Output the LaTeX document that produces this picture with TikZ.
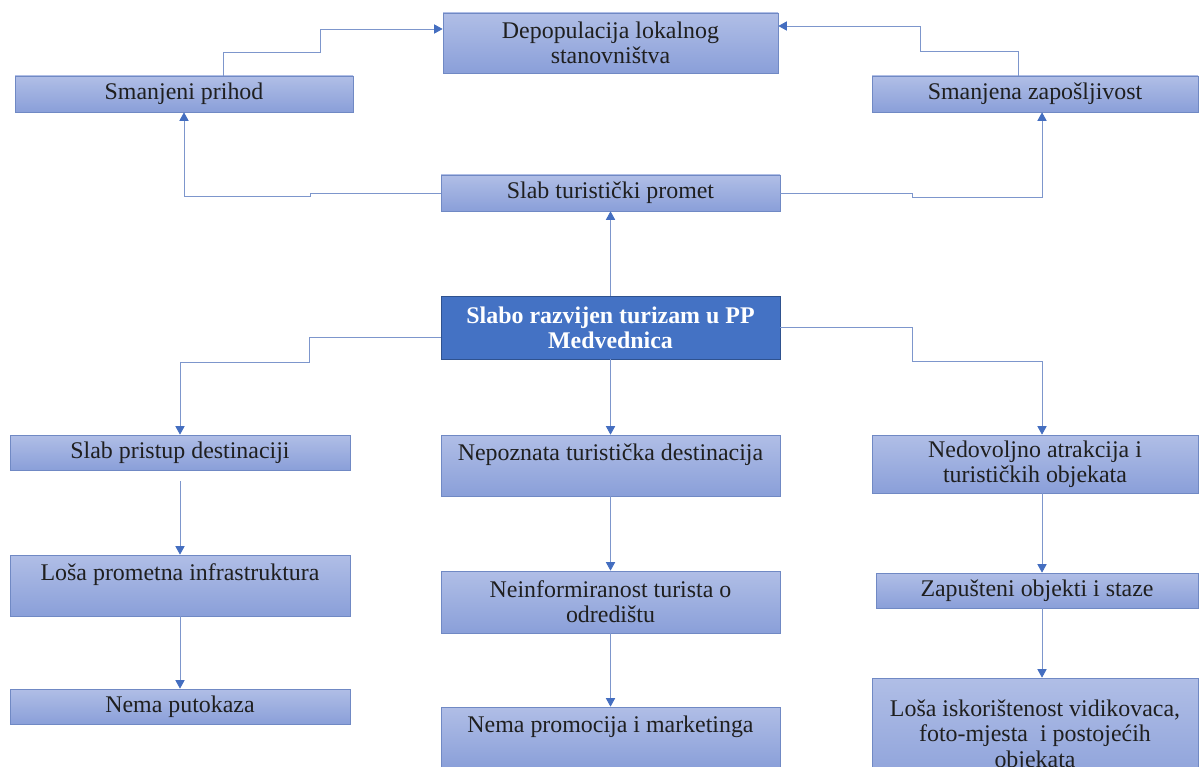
\documentclass[tikz,border=0pt]{standalone}
\usepackage{fontspec}
\setmainfont{Liberation Serif}
\usetikzlibrary{arrows.meta,calc}

\definecolor{BoxTop}{RGB}{176,190,230}
\definecolor{BoxBot}{RGB}{138,159,217}
\definecolor{BoxLine}{RGB}{112,137,196}
\definecolor{CoreFill}{RGB}{68,114,196}
\definecolor{CoreLine}{RGB}{47,82,143}
\definecolor{LinkCol}{RGB}{125,150,204}
\definecolor{TipCol}{RGB}{68,110,192}

\begin{document}
\begin{tikzpicture}[x=0.025cm,y=-0.025cm,
  box/.style={rectangle,draw=BoxLine,line width=0.5pt,top color=BoxTop,bottom color=BoxBot,
    inner sep=2pt,align=center,text=black!88,font=\fontsize{17pt}{18pt}\selectfont},
  core/.style={rectangle,draw=CoreLine,line width=0.6pt,fill=CoreFill,
    inner sep=2pt,align=center,text=white,font=\fontsize{17pt}{18pt}\selectfont\bfseries},
  link/.style={draw=LinkCol,line width=0.6pt,-{Triangle[length=6pt,width=6.5pt,color=TipCol]}}]

  % 1 px = 0.025cm, y runs downward
  \def\Ux{0.025cm}
  \useasboundingbox (0,0) rectangle (1200,767);
  \clip (0,0) rectangle (1200,767);

  % top level
  \node[box,minimum width=335*\Ux,minimum height=60*\Ux] (depop) at (610.5,43) {Depopulacija lokalnog\\stanovništva};
  \node[box,minimum width=338*\Ux,minimum height=36*\Ux] (prihod) at (184,94) {Smanjeni prihod};
  \node[box,minimum width=326*\Ux,minimum height=36*\Ux] (zapos) at (1035,94) {Smanjena zapošljivost};
  \node[box,minimum width=339*\Ux,minimum height=36*\Ux] (promet) at (610.5,193) {Slab turistički promet};

  % central problem
  \node[core,minimum width=339*\Ux,minimum height=63*\Ux] (central) at (610.5,327.5) {Slabo razvijen turizam u PP\\Medvednica};

  % left column
  \node[box,minimum width=340*\Ux,minimum height=35*\Ux] (pristup) at (180,452.5) {Slab pristup destinaciji};
  \node[box,minimum width=340*\Ux,minimum height=61*\Ux] (infra) at (180,585.5) {Loša prometna infrastruktura\\[-4pt]\strut};
  \node[box,minimum width=340*\Ux,minimum height=35*\Ux] (putokaz) at (180,706.5) {Nema putokaza};

  % middle column
  \node[box,minimum width=339*\Ux,minimum height=61*\Ux] (nepoz) at (610.5,465.5) {Nepoznata turistička destinacija\\[-4pt]\strut};
  \node[box,minimum width=339*\Ux,minimum height=62*\Ux] (neinf) at (610.5,602) {Neinformiranost turista o\\odredištu};
  \node[box,minimum width=339*\Ux,minimum height=61*\Ux] (promo) at (610.5,737.5) {Nema promocija i marketinga\\[-4pt]\strut};

  % right column
  \node[box,minimum width=326*\Ux,minimum height=58*\Ux] (atrak) at (1035,464) {Nedovoljno atrakcija i\\turističkih objekata};
  \node[box,minimum width=322*\Ux,minimum height=35*\Ux] (zapust) at (1037,590.5) {Zapušteni objekti i staze};
  \node[box,minimum width=326*\Ux,minimum height=116*\Ux] (iskor) at (1035,736) {Loša iskorištenost vidikovaca,\\foto-mjesta\ \ i postojećih\\objekata};

  % effects
  \draw[link] ($(prihod.north)+(39,0)$) -- ++(0,-23) -- ++(97,0) |- ($(depop.west)+(0,-14)$);
  \draw[link] ($(zapos.north)+(-17,0)$) -- ++(0,-24) -- ++(-98,0) |- ($(depop.east)+(0,-17)$);
  \draw[link] (promet.west) -- ++(-130,0) -- ++(0,3) -| (prihod.south);
  \draw[link] (promet.east) -- ++(132,0) -- ++(0,4) -| ($(zapos.south)+(7,0)$);
  \draw[link] (central.north) -- (promet.south);

  % causes
  \draw[link] ($(central.west)+(0,10)$) -- ++(-131,0) -- ++(0,25) -| (pristup.north);
  \draw[link] (central.south) -- (nepoz.north);
  \draw[link] (central.east) -- ++(132,0) -- ++(0,34) -| ($(atrak.north)+(7,0)$);

  \draw[link] ($(pristup.south)+(0,11)$) -- (infra.north);
  \draw[link] (infra.south) -- (putokaz.north);
  \draw[link] (nepoz.south) -- (neinf.north);
  \draw[link] (neinf.south) -- (promo.north);
  \draw[link] ($(atrak.south)+(7,0)$) -- ($(zapust.north)+(5,0)$);
  \draw[link] ($(zapust.south)+(5,0)$) -- ($(iskor.north)+(7,0)$);
\end{tikzpicture}
\end{document}
